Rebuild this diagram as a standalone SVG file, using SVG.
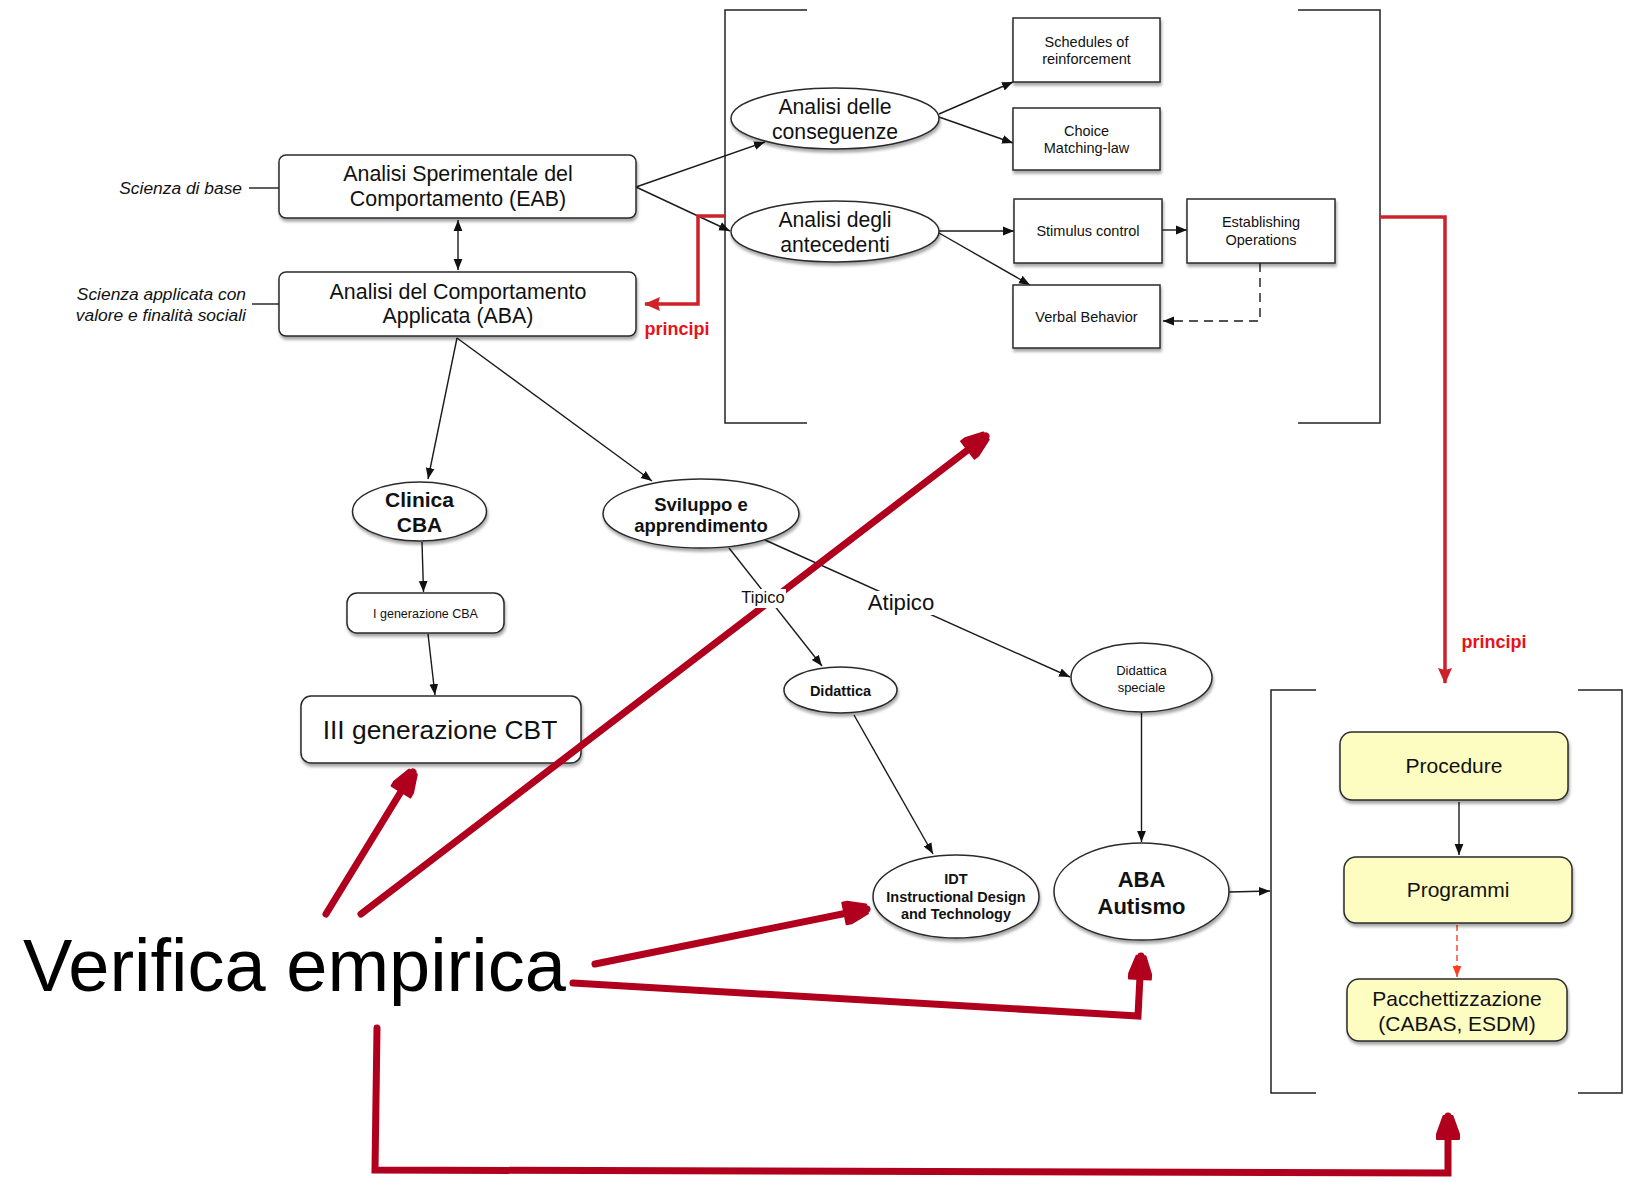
<svg xmlns="http://www.w3.org/2000/svg" width="1627" height="1182" viewBox="0 0 1627 1182">
<style>
.t{font-family:"Liberation Sans",Arial,Helvetica,sans-serif;fill:#111;text-anchor:middle}
.b{font-weight:bold}
.it{font-style:italic;text-anchor:end}
.box{fill:#fff;stroke:#2a2a2a;stroke-width:1.5}
.yel{fill:#fdfdc2;stroke:#2a2a2a;stroke-width:1.5}
.ell{fill:#fff;stroke:#2a2a2a;stroke-width:1.5}
.ln{fill:none;stroke:#1a1a1a;stroke-width:1.4}
.brk{fill:none;stroke:#222;stroke-width:1.5}
.pr{fill:none;stroke:#cc2229;stroke-width:3.5}
.ver{fill:none;stroke:#b0001e;stroke-width:7;stroke-linecap:round;stroke-linejoin:miter}
.lab{fill:#fff}
</style>
<defs>
<filter id="sh" x="-10%" y="-15%" width="125%" height="150%">
<feDropShadow dx="1" dy="3" stdDeviation="1.8" flood-color="#000" flood-opacity="0.35"/>
</filter>
<marker id="ah" viewBox="0 0 10 10" refX="10" refY="5" markerWidth="11" markerHeight="11" markerUnits="userSpaceOnUse" orient="auto-start-reverse">
<path d="M0,1 L10,5 L0,9 Z" fill="#111"/>
</marker>
<marker id="ahp" viewBox="0 0 16 14" refX="15" refY="7" markerWidth="16" markerHeight="14" markerUnits="userSpaceOnUse" orient="auto">
<path d="M0,7 L16,0 L14,7 L16,14 Z" fill="#cc2229" transform="rotate(180 8 7)"/>
</marker>
<marker id="ahd" viewBox="0 0 10 10" refX="10" refY="5" markerWidth="11" markerHeight="11" markerUnits="userSpaceOnUse" orient="auto">
<path d="M0,1 L10,5 L0,9 Z" fill="#ff3b22"/>
</marker>
<marker id="ahv" viewBox="-2 -14 28 28" refX="23" refY="0" markerWidth="28" markerHeight="28" markerUnits="userSpaceOnUse" orient="auto">
<path d="M0,-11 L5,-11 L23,-4.5 L23,4.5 L5,11 L0,11 Z" fill="#b0001e" stroke="#b0001e" stroke-width="2" stroke-linejoin="round"/>
</marker>
</defs>
<rect width="1627" height="1182" fill="#fff"/>

<g id="brackets">
<path class="brk" d="M807,10 H725 V423 H807"/>
<path class="brk" d="M1298,10 H1380 V423 H1298"/>
<path class="brk" d="M1316,690 H1271 V1093 H1316"/>
<path class="brk" d="M1578,690 H1622 V1093 H1578"/>
</g>

<g id="connectors">
<path class="ln" d="M249,188 H279"/>
<path class="ln" d="M252,304 H279"/>
<path class="ln" d="M458,220 V270" marker-start="url(#ah)" marker-end="url(#ah)"/>
<path class="ln" d="M636,187 L765,142" marker-end="url(#ah)"/>
<path class="ln" d="M636,187 L730,231" marker-end="url(#ah)"/>
<path class="ln" d="M939,114 L1013,82" marker-end="url(#ah)"/>
<path class="ln" d="M939,117 L1013,143" marker-end="url(#ah)"/>
<path class="ln" d="M939,231 L1014,231" marker-end="url(#ah)"/>
<path class="ln" d="M939,233 L1030,285" marker-end="url(#ah)"/>
<path class="ln" d="M1162,230 L1187,230" marker-end="url(#ah)"/>
<path class="ln" d="M1260,263 V321 H1163" stroke-dasharray="9,6" marker-end="url(#ah)"/>
<path class="pr" d="M726,216 H698 V304 H645" marker-end="url(#ahp)"/>
<path class="pr" d="M1380,217 H1445 V683" marker-end="url(#ahp)"/>
<path class="ln" d="M457,338 L428,479" marker-end="url(#ah)"/>
<path class="ln" d="M457,338 L652,481" marker-end="url(#ah)"/>
<path class="ln" d="M422,542 L423.5,592" marker-end="url(#ah)"/>
<path class="ln" d="M428,634 L435,695" marker-end="url(#ah)"/>
<path class="ln" d="M729,548 L822,666" marker-end="url(#ah)"/>
<path class="ln" d="M765,540 L1070,677" marker-end="url(#ah)"/>
<path class="ln" d="M854,715 L933,854" marker-end="url(#ah)"/>
<path class="ln" d="M1141.5,713 V842" marker-end="url(#ah)"/>
<path class="ln" d="M1229,892 L1270,891" marker-end="url(#ah)"/>
<path class="ln" d="M1459,802 V855" marker-end="url(#ah)"/>
<path fill="none" stroke="#ff3b22" stroke-width="1.4" stroke-dasharray="6,4" d="M1457,925 V977" marker-end="url(#ahd)"/>
</g>

<g id="side-labels">
<text class="t it" x="242" y="194" font-size="17.4">Scienza di base</text>
<text class="t it" x="246" y="300" font-size="17.4">Scienza applicata con</text>
<text class="t it" x="246" y="321" font-size="17.4">valore e finalità sociali</text>
<text class="t b" x="677" y="335" font-size="18" style="fill:#e8121b">principi</text>
<text class="t b" x="1494" y="648" font-size="18" style="fill:#e8121b">principi</text>
</g>

<g id="eab">
<rect class="box" x="279" y="155" width="357" height="63" rx="7" filter="url(#sh)"/>
<text class="t" x="458" y="181" font-size="21.4">Analisi Sperimentale del</text>
<text class="t" x="458" y="206" font-size="21.4">Comportamento (EAB)</text>
</g>
<g id="aba">
<rect class="box" x="279" y="272" width="357" height="64" rx="7" filter="url(#sh)"/>
<text class="t" x="458" y="299" font-size="21.4">Analisi del Comportamento</text>
<text class="t" x="458" y="323" font-size="21.4">Applicata (ABA)</text>
</g>
<g id="conseguenze">
<ellipse class="ell" cx="835" cy="118.5" rx="104" ry="30.5" filter="url(#sh)"/>
<text class="t" x="835" y="114" font-size="21.2">Analisi delle</text>
<text class="t" x="835" y="139" font-size="21.2">conseguenze</text>
</g>
<g id="antecedenti">
<ellipse class="ell" cx="835" cy="231.5" rx="104" ry="30.5" filter="url(#sh)"/>
<text class="t" x="835" y="227" font-size="21.2">Analisi degli</text>
<text class="t" x="835" y="252" font-size="21.2">antecedenti</text>
</g>
<g id="schedules">
<rect class="box" x="1013" y="18" width="147" height="64" filter="url(#sh)"/>
<text class="t" x="1086.5" y="47" font-size="14.5">Schedules of</text>
<text class="t" x="1086.5" y="64" font-size="14.5">reinforcement</text>
</g>
<g id="choice">
<rect class="box" x="1013" y="108" width="147" height="62" filter="url(#sh)"/>
<text class="t" x="1086.5" y="136" font-size="14.5">Choice</text>
<text class="t" x="1086.5" y="153" font-size="14.5">Matching-law</text>
</g>
<g id="stimulus">
<rect class="box" x="1014" y="199" width="148" height="64" filter="url(#sh)"/>
<text class="t" x="1088" y="236" font-size="14.5">Stimulus control</text>
</g>
<g id="establishing">
<rect class="box" x="1187" y="199" width="148" height="64" filter="url(#sh)"/>
<text class="t" x="1261" y="227" font-size="14.5">Establishing</text>
<text class="t" x="1261" y="245" font-size="14.5">Operations</text>
</g>
<g id="verbal">
<rect class="box" x="1013" y="285" width="147" height="63" filter="url(#sh)"/>
<text class="t" x="1086.5" y="322" font-size="14.5">Verbal Behavior</text>
</g>
<g id="clinica">
<ellipse class="ell" cx="419.5" cy="511.5" rx="67" ry="29.5" filter="url(#sh)"/>
<text class="t b" x="419.5" y="507" font-size="21">Clinica</text>
<text class="t b" x="419.5" y="532" font-size="21">CBA</text>
</g>
<g id="sviluppo">
<ellipse class="ell" cx="701" cy="513.5" rx="98" ry="34.5" filter="url(#sh)"/>
<text class="t b" x="701" y="511" font-size="18.5">Sviluppo e</text>
<text class="t b" x="701" y="532" font-size="18.5">apprendimento</text>
</g>
<g id="igen">
<rect class="box" x="347" y="593" width="157" height="40" rx="10" filter="url(#sh)"/>
<text class="t" x="425.5" y="618" font-size="12.5">I generazione CBA</text>
</g>
<g id="iiigen">
<rect class="box" x="301" y="696" width="280" height="67" rx="10" filter="url(#sh)"/>
<text class="t" x="440" y="739" font-size="26.4">III generazione CBT</text>
</g>
<g id="didattica">
<ellipse class="ell" cx="840.5" cy="690" rx="56.5" ry="23" filter="url(#sh)"/>
<text class="t b" x="840.5" y="696" font-size="14.5">Didattica</text>
</g>
<g id="didattica-speciale">
<ellipse class="ell" cx="1141.5" cy="677.5" rx="70.5" ry="34.5" filter="url(#sh)"/>
<text class="t" x="1141.5" y="675" font-size="13">Didattica</text>
<text class="t" x="1141.5" y="692" font-size="13">speciale</text>
</g>
<g id="idt">
<ellipse class="ell" cx="956" cy="896.5" rx="83" ry="41.5" filter="url(#sh)"/>
<text class="t b" x="956" y="884" font-size="14.5">IDT</text>
<text class="t b" x="956" y="902" font-size="14.5">Instructional Design</text>
<text class="t b" x="956" y="919" font-size="14.5">and Technology</text>
</g>
<g id="aba-autismo">
<ellipse class="ell" cx="1141.5" cy="891.5" rx="87.5" ry="48.5" filter="url(#sh)"/>
<text class="t b" x="1141.5" y="887" font-size="22">ABA</text>
<text class="t b" x="1141.5" y="914" font-size="22">Autismo</text>
</g>
<g id="procedure">
<rect class="yel" x="1340" y="732" width="228" height="68" rx="12" filter="url(#sh)"/>
<text class="t" x="1454" y="773" font-size="21">Procedure</text>
</g>
<g id="programmi">
<rect class="yel" x="1344" y="857" width="228" height="66" rx="12" filter="url(#sh)"/>
<text class="t" x="1458" y="897" font-size="21">Programmi</text>
</g>
<g id="pacchettizzazione">
<rect class="yel" x="1347" y="979" width="220" height="62" rx="12" filter="url(#sh)"/>
<text class="t" x="1457" y="1006" font-size="21">Pacchettizzazione</text>
<text class="t" x="1457" y="1031" font-size="21">(CABAS, ESDM)</text>
</g>
<g id="verifica">
<text class="t" x="23" y="991" font-size="74" style="text-anchor:start;fill:#000">Verifica empirica</text>
</g>

<g id="verifica-connectors">
<path class="ver" d="M326,914 L413,772" marker-end="url(#ahv)"/>
<path class="ver" d="M361,914 L986,436" marker-end="url(#ahv)"/>
<path class="ver" d="M595,964 L867,909" marker-end="url(#ahv)"/>
<path class="ver" d="M573,983 L1138,1016 L1141,956" marker-end="url(#ahv)"/>
<path class="ver" d="M377,1028 L375,1170 L1448,1173 L1448,1116" marker-end="url(#ahv)"/>
</g>

<g id="connector-labels">
<rect class="lab" x="741" y="589" width="45" height="19"/>
<text class="t" x="763" y="603" font-size="16.5">Tipico</text>
<rect class="lab" x="864" y="591" width="74" height="24"/>
<text class="t" x="901" y="610" font-size="22.2">Atipico</text>
</g>
</svg>
